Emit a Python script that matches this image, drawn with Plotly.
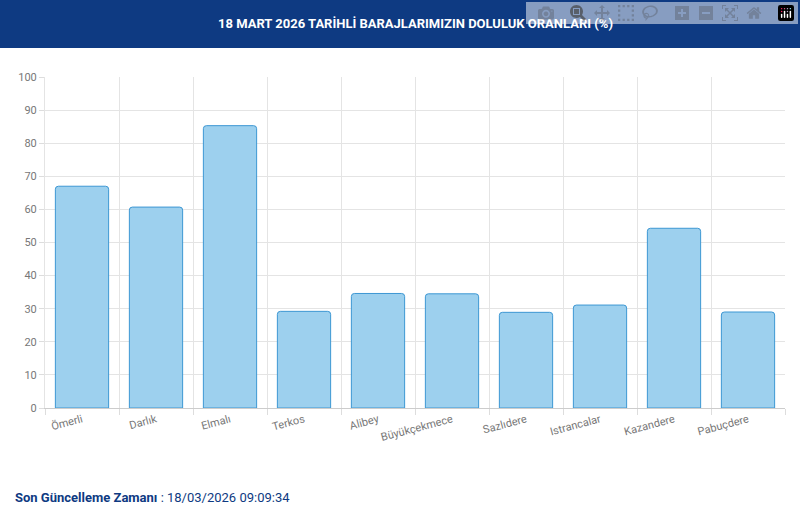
import plotly.graph_objects as go

categories = ["Ömerli", "Darlık", "Elmalı", "Terkos", "Alibey", "Büyükçekmece",
              "Sazlıdere", "Istrancalar", "Kazandere", "Pabuçdere"]
values = [67.0, 60.7, 85.3, 29.2, 34.6, 34.5, 28.9, 31.1, 54.3, 29.0]
positions = [i + 0.5 for i in range(len(categories))]

W, H = 800, 524
L, R, T, B = 45, 15, 77, 116
ph = H - T - B

def py(px):  # pixel from top -> paper y
    return 1 + (T - px) / ph

fig = go.Figure(go.Bar(
    x=positions, y=values, width=0.72,
    marker=dict(color="#9dd0ee", line=dict(color="#3d97d3", width=1), cornerradius=3),
    hoverinfo="x+y"))

fig.update_layout(
    width=W, height=H, margin=dict(l=L, r=R, t=T, b=B),
    paper_bgcolor="white", plot_bgcolor="white", showlegend=False,
    font=dict(family="Roboto, Arial, sans-serif", color="#777"),
    xaxis=dict(range=[0, 10], tickvals=positions, ticktext=categories, tickangle=-15,
               showgrid=False, ticks="", tickfont=dict(size=11, color="#777"),
               showline=True, linecolor="#ccc",
               minor=dict(dtick=1, tick0=0, showgrid=True, gridcolor="#e4e4e4",
                          ticks="outside", ticklen=6, tickcolor="#ddd")),
    yaxis=dict(range=[0, 100], dtick=10, gridcolor="#e4e4e4", ticks="outside",
               ticklen=5, tickcolor="#ddd", tickfont=dict(size=11, color="#777"),
               zeroline=False, showline=True, linecolor="#e4e4e4"),
    shapes=[dict(type="rect", xref="paper", yref="paper", x0=-L / (W - L - R), x1=1 + R / (W - L - R),
                 y0=py(48), y1=py(0), fillcolor="#0e3a82", line=dict(width=0), layer="above")],
    annotations=[
        dict(text="<b>18 MART 2026 TARİHLİ BARAJLARIMIZIN DOLULUK ORANLARI (%)</b>",
             xref="paper", yref="paper", x=0.5, y=py(24), xanchor="center", yanchor="middle",
             showarrow=False, font=dict(size=13, color="white", family="Roboto, sans-serif")),
        dict(text="<b>Son Güncelleme Zamanı</b> : 18/03/2026 09:09:34",
             xref="paper", yref="paper", x=(13 - L) / (W - L - R), y=py(497),
             xanchor="left", yanchor="middle", showarrow=False,
             font=dict(size=13, color="#0e3a82", family="Roboto, sans-serif")),
    ])

fig.write_html("out.html", post_script="document.body.style.margin='0';document.body.style.overflow='hidden';")
